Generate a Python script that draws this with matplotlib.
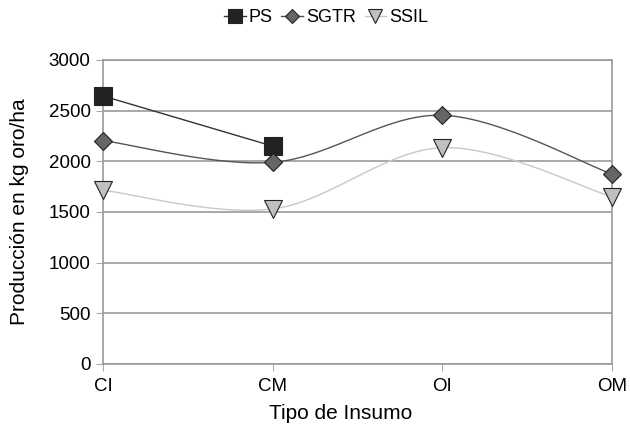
import numpy as np
import matplotlib
matplotlib.use('Agg')
import matplotlib.pyplot as plt

plt.rcParams['font.family'] = ['Liberation Sans', 'DejaVu Sans']

categories = ['CI', 'CM', 'OI', 'OM']
ps = [2645, 2150]
sgtr = [2205, 1990, 2455, 1875]
ssil = [1715, 1530, 2135, 1650]


def smooth(x, y, n=40):
	"""Catmull-Rom style curve through the points, like Excel's smoothed line."""
	x = np.asarray(x, float)
	y = np.asarray(y, float)
	if len(x) < 3:
		return x, y
	px = np.concatenate([[x[0]], x, [x[-1]]])
	py = np.concatenate([[y[0]], y, [y[-1]]])
	xs, ys = [], []
	for i in range(1, len(px) - 2):
		p0, p1, p2, p3 = [np.array([px[j], py[j]]) for j in (i - 1, i, i + 1, i + 2)]
		c1 = p1 + (p2 - p0) / 6
		c2 = p2 - (p3 - p1) / 6
		t = np.linspace(0, 1, n)[:, None]
		b = (1 - t) ** 3 * p1 + 3 * (1 - t) ** 2 * t * c1 + 3 * (1 - t) * t ** 2 * c2 + t ** 3 * p2
		xs.append(b[:, 0])
		ys.append(b[:, 1])
	return np.concatenate(xs), np.concatenate(ys)


fig = plt.figure(figsize=(6.3, 4.3), dpi=100)
ax = fig.add_axes([103 / 630, 1 - 364 / 430, 509 / 630, 304 / 430])

series = [
	('PS', ps, '#333333', 's', '#222222', 13),
	('SGTR', sgtr, '#555555', 'D', '#666666', 9),
	('SSIL', ssil, '#c8c8c8', 'v', '#c0c0c0', 13),
]
for name, vals, lc, mk, mc, ms in series:
	x = np.arange(len(vals))
	sx, sy = smooth(x, vals)
	ax.plot(sx, sy, color=lc, lw=1, zorder=2)
	ax.plot(x, vals, ls='none', marker=mk, ms=ms, mfc=mc, mec='#222222', mew=0.8, zorder=3, clip_on=False)
	ax.plot([], [], color=lc, lw=1, marker=mk, ms=ms * 0.75, mfc=mc, mec='#222222', mew=0.8, label=name)

ax.set_xlim(0, 3)
ax.set_ylim(0, 3000)
ax.set_yticks(range(0, 3001, 500))
ax.set_xticks(range(4))
ax.set_xticklabels(categories)
ax.yaxis.grid(True, color='#999999', lw=1.2)
for s in ax.spines.values():
	s.set_color('#999999')
	s.set_linewidth(1.2)
ax.tick_params(axis='both', colors='#aaaaaa', labelcolor='black', labelsize=13.5, length=5)
ax.tick_params(axis='x', pad=5)
ax.tick_params(axis='y', pad=4)
ax.set_xlabel('Tipo de Insumo', fontsize=15)
ax.set_ylabel('Producción en kg oro/ha', fontsize=15)
ax.xaxis.set_label_coords(0.466, -0.133, transform=ax.transAxes)
ax.yaxis.set_label_coords(-0.145, 0.5, transform=ax.transAxes)
ax.xaxis.label.set_va('top')
ax.legend(loc='lower center', bbox_to_anchor=(326 / 630, 1 - 35 / 430), bbox_transform=fig.transFigure,
	ncol=3, frameon=False, fontsize=13, handlelength=1.2, handletextpad=0.15, columnspacing=0.5,
	borderpad=0)

fig.savefig('out.png', dpi=100)
